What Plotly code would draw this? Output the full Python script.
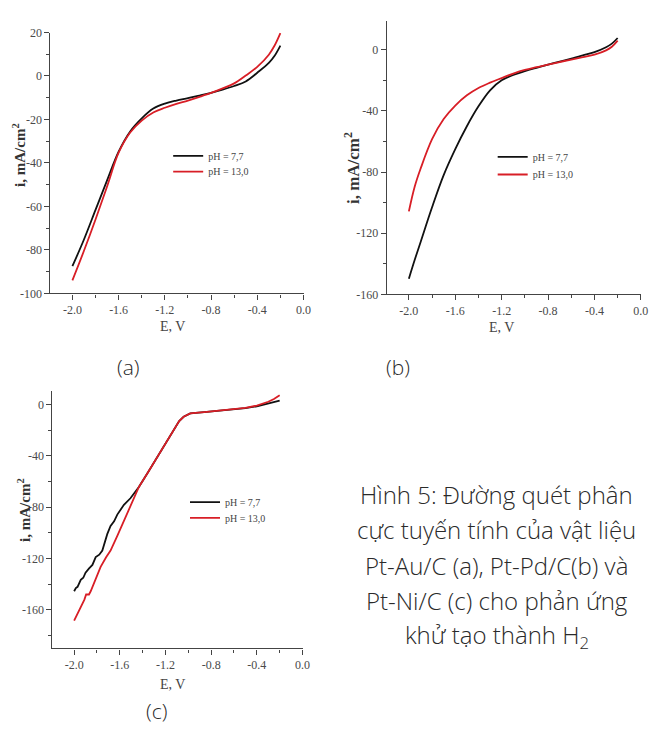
import plotly.graph_objects as go

# ---------------- data ----------------
E_a = [-2.0, -1.9, -1.8, -1.7, -1.6, -1.5, -1.4, -1.3, -1.2, -1.1, -1.0,
       -0.9, -0.8, -0.7, -0.6, -0.5, -0.4, -0.3, -0.25, -0.2]
a_ph77 = [-87.5, -75.2, -61.6, -48, -34.8, -25.5, -19.5, -15, -12.7, -11.3, -10.2,
          -9, -7.8, -6.3, -4.6, -2.5, 1.5, 6, 9.3, 14]
a_ph13 = [-94, -80.4, -66, -50.8, -35.3, -26, -20.5, -16.8, -14.6, -12.8, -11.3,
          -9.6, -7.8, -5.7, -3.4, 0.2, 4.2, 9.8, 14, 19.7]

E_b = [-2.0, -1.95, -1.9, -1.8, -1.7, -1.6, -1.5, -1.4, -1.3, -1.2, -1.1, -1.0,
       -0.9, -0.8, -0.7, -0.6, -0.5, -0.4, -0.3, -0.25, -0.2]
b_ph77 = [-149.7, -137.5, -126, -103, -82, -65, -50, -37, -26.5, -20, -16.5, -14,
          -11.8, -9.7, -7.7, -5.8, -3.7, -1.5, 1.7, 4, 7.7]
b_ph13 = [-105.7, -89.6, -78, -58.5, -45.3, -36.5, -29.8, -25, -21.5, -18.5, -15.6, -13.2,
          -11.4, -9.7, -8, -6.4, -4.8, -3.2, -0.4, 2, 6]

c_E77 = [-2.0, -1.985, -1.97, -1.942, -1.92, -1.9, -1.869, -1.84, -1.811, -1.78,
         -1.753, -1.73, -1.71, -1.681, -1.65, -1.622, -1.59, -1.564, -1.507, -1.47,
         -1.433, -1.35, -1.274, -1.2, -1.128, -1.08, -1.041, -0.983, -0.838, -0.7,
         -0.6, -0.5, -0.4, -0.3, -0.2]
c_ph77 = [-145.5, -143, -142, -136.6, -135, -131, -127.7, -125, -118.9, -117,
          -113.8, -107, -101, -94.7, -91, -85.8, -82, -78.2, -73.1, -69,
          -64.3, -52.5, -41.4, -30.5, -19.8, -13, -9.7, -7.1, -5.8, -4.8,
          -4, -3, -1.5, 0.5, 2.8]
c_E13 = [-2.0, -1.97, -1.942, -1.91, -1.895, -1.87, -1.855, -1.81, -1.768, -1.72,
         -1.681, -1.62, -1.564, -1.5, -1.433, -1.35, -1.274, -1.2, -1.128, -1.08,
         -1.041, -0.983, -0.838, -0.7, -0.6, -0.5, -0.4, -0.3, -0.25, -0.2]
c_ph13 = [-168.4, -163, -157, -152, -148, -148, -145.5, -135, -126.5, -119,
          -113.8, -102, -90.9, -77.5, -64.3, -52.5, -41.4, -30.5, -19.8, -13,
          -9.7, -7.1, -5.8, -4.8, -4, -2.8, -1, 2, 4.2, 7]

x_ticks = [-2.0, -1.6, -1.2, -0.8, -0.4, 0.0]
x_ticktext = ["-2.0", "-1.6", "-1.2", "-0.8", "-0.4", "0.0"]
ya_ticks = [-100, -80, -60, -40, -20, 0, 20]
ya_text = ["-100", "-80", "-60", "-40", "-20", "0", "20"]
yb_ticks = [-160, -120, -80, -40, 0]
yb_text = ["-160", "-120", "-80", "-40", "0"]
yc_ticks = [-160, -120, -80, -40, 0]
yc_text = ["-160", "-120", "-80", "-40", "0"]

labels = ["pH = 7,7", "pH = 13,0"]
colors = ["#111111", "#d81e26"]
x_title = "E, V"
y_title = "<b>i, mA/cm<sup>2</sup></b>"
panel_labels = ["(a)", "(b)", "(c)"]

caption = ["Hình 5: Đường quét phân", "cực tuyến tính của vật liệu",
           "Pt-Au/C (a), Pt-Pd/C(b) và", "Pt-Ni/C (c) cho phản ứng",
           "khử tạo thành H<sub>2</sub>"]

# ---------------- figure ----------------
fig = go.Figure()
W, H = 656, 731

def px(x):
    return x / W

def py(y):
    return 1 - y / H

panels = [
    ("x", "y", ("legend", "legend2"), E_a, a_ph77, E_a, a_ph13, "spline", (170, 154, 170)),
    ("x2", "y2", ("legend3", "legend4"), E_b, b_ph77, E_b, b_ph13, "spline", (498, 155, 173)),
    ("x3", "y3", ("legend5", "legend6"), c_E77, c_ph77, c_E13, c_ph13, "linear", (187, 507, 523)),
]
legfont = dict(family="Liberation Serif", size=10, color="#444444")
leg_layout = {}
for xa, ya, lgs, x1, y1, x2, y2, shape, (lx, lyb, lyr) in panels:
    for xs, ys, name, col, lg, ly in ((x1, y1, labels[0], colors[0], lgs[0], lyb),
                                      (x2, y2, labels[1], colors[1], lgs[1], lyr)):
        fig.add_trace(go.Scatter(x=xs, y=ys, mode="lines", name=name,
                                 line=dict(color=col, width=1.8, shape=shape),
                                 xaxis=xa, yaxis=ya, legend=lg))
        leg_layout[lg] = dict(x=px(lx), y=py(ly - 17), xanchor="left", yanchor="top",
                              font=legfont, bgcolor="rgba(0,0,0,0)", itemwidth=30)

tickfont = dict(family="Liberation Serif", size=12, color="#4a4a4a")

def xax(domain, anchor):
    return dict(domain=domain, anchor=anchor, range=[-2.19, 0.002],
                tickvals=x_ticks, ticktext=x_ticktext, ticks="outside",
                ticklen=5, tickwidth=1, tickcolor="#444",
                minor=dict(dtick=0.2, tick0=0, ticklen=3, ticks="outside", tickcolor="#444"),
                showline=True, linecolor="#444", linewidth=1.2, showgrid=False,
                zeroline=False, tickfont=tickfont)

def yax(domain, anchor, rng, tv, tt, minor_dt):
    return dict(domain=domain, anchor=anchor, range=rng, tickvals=tv, ticktext=tt,
                ticks="outside", ticklen=5, tickwidth=1, tickcolor="#444",
                minor=dict(dtick=minor_dt, tick0=0, ticklen=3, ticks="outside", tickcolor="#444"),
                showline=True, linecolor="#444", linewidth=1.2, showgrid=False,
                zeroline=False, tickfont=tickfont)

fig.update_layout(
    width=W, height=H, margin=dict(l=0, r=0, t=0, b=0),
    paper_bgcolor="white", plot_bgcolor="white",
    xaxis=xax([px(51), px(307)], "y"),
    yaxis=yax([py(292), py(26)], "x", [-100, 20], ya_ticks, ya_text, 10),
    xaxis2=xax([px(391), px(648)], "y2"),
    yaxis2=yax([py(293), py(14)], "x2", [-160, 19], yb_ticks, yb_text, 20),
    xaxis3=xax([px(53), px(306)], "y3"),
    yaxis3=yax([py(654), py(392)], "x3", [-190, 10], yc_ticks, yc_text, 20),
    showlegend=True,
    **leg_layout,
)

# axis titles
titlefont = dict(family="Liberation Serif", size=14, color="#444444")
for xt, yt in ((174, 326), (507, 327), (174, 691)):
    fig.add_annotation(text=x_title, x=px(xt), y=py(yt), xref="paper", yref="paper",
                       showarrow=False, xanchor="center", yanchor="middle", font=titlefont)
for (xt, yt), fs in (((19, 151), 15), ((356, 164), 17), ((24, 513), 15)):
    fig.add_annotation(text=y_title, x=px(xt), y=py(yt), xref="paper", yref="paper",
                       showarrow=False, xanchor="center", yanchor="middle", textangle=-90,
                       font=dict(family="Liberation Serif", size=fs, color="#333333"))

capfont = dict(family="Open Sans", size=24, color="#2a2a2a", weight=300)
for i, line in enumerate(caption):
    fig.add_annotation(text=line, x=px(502), y=py(497 + i * 36), xref="paper", yref="paper",
                       showarrow=False, xanchor="center", yanchor="middle", font=capfont)

labfont = dict(family="Open Sans", size=21, color="#2a2a2a", weight=300)
for lab, x0, y0 in zip(panel_labels, (130, 402, 158), (367, 367, 718)):
    fig.add_annotation(text=lab, x=px(x0), y=py(y0), xref="paper", yref="paper",
                       showarrow=False, xanchor="center", yanchor="middle", font=labfont)

fig.write_html("out.html")
